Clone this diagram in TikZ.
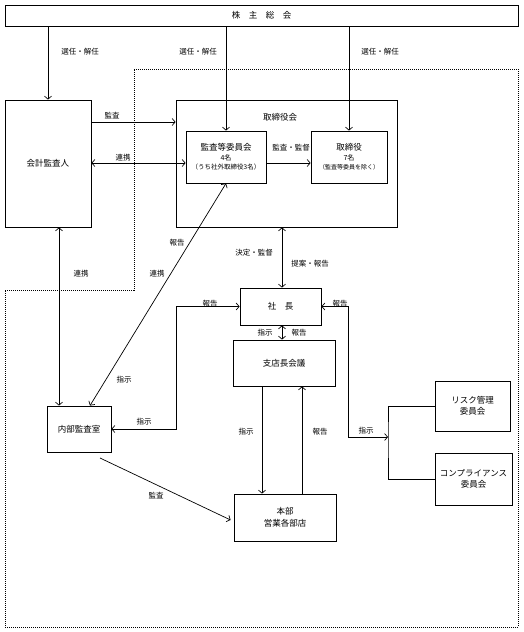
\documentclass[tikz,border=0pt]{standalone}
\usepackage{fontspec}
\setmainfont{Noto Sans CJK JP}
\usetikzlibrary{arrows.meta}
\usetikzlibrary{calc}

\begin{document}
\begin{tikzpicture}[
        x=1pt, y=-1pt,
        box/.style={draw, line width=0.8pt, align=center, inner sep=0pt, font=\fontsize{8.5}{11.5}\selectfont},
        lbl/.style={font=\fontsize{7.5}{9}\selectfont, inner sep=0pt},
        arr/.style={line width=0.7pt, -{Straight Barb[length=3pt,width=7pt]}},
        darr/.style={line width=0.7pt, {Straight Barb[length=3pt,width=7pt]}-{Straight Barb[length=3pt,width=7pt]}},
        plain/.style={line width=0.7pt},
        zone/.style={line width=0.7pt, dash pattern=on 1pt off 1pt}
    ]
    \useasboundingbox (0,0) rectangle (523,632);

    %=== Dotted area ===%
    \draw[zone] (134,69) -- (518,69) -- (518,627) -- (5,627) -- (5,290) -- (134,290) -- cycle;

    %=== Boxes ===%
    \node[box, minimum width=513pt, minimum height=21pt] (gm) at (261.5,15.5) {株　主　総　会};
    \node[box, minimum width=86pt, minimum height=127pt] (kaikei) at (48,163.5) {会計監査人};
    \node[box, minimum width=221pt, minimum height=127pt] (board) at (286.5,163.5) {};
    \node[box, draw=none] (boardtitle) at (280,117) {取締役会};
    \node[box, minimum width=80pt, minimum height=52pt] (audit) at (226,157)
        {監査等委員会\\[-2pt]{\fontsize{7}{9}\selectfont 4名}\\[-2pt]{\fontsize{6.5}{8}\selectfont （うち社外取締役3名）}};
    \node[box, minimum width=76pt, minimum height=52pt] (dir) at (349,157)
        {取締役\\[-2pt]{\fontsize{7}{9}\selectfont 7名}\\[-2pt]{\fontsize{6}{8}\selectfont （監査等委員を除く）}};
    \node[box, minimum width=81pt, minimum height=37pt] (pres) at (280.5,306.5) {社　長};
    \node[box, minimum width=102pt, minimum height=46pt] (branch) at (284,363) {支店長会議};
    \node[box, minimum width=64pt, minimum height=46pt] (internal) at (79,429) {内部監査室};
    \node[box, minimum width=102pt, minimum height=47pt] (hq) at (285,517.5) {本部\\営業各部店};
    \node[box, minimum width=75pt, minimum height=50pt] (risk) at (472.5,406) {リスク管理\\委員会};
    \node[box, minimum width=77pt, minimum height=52pt] (comp) at (473.5,479) {コンプライアンス\\委員会};

    %=== Connectors ===%
    \coordinate (fork) at (388,437);
    \coordinate (iaudit) at (100,458);

    \draw[arr] (gm.south -| kaikei.north) -- (kaikei.north);
    \draw[arr] (gm.south -| audit.north) -- (audit.north);
    \draw[arr] (gm.south -| dir.north) -- (dir.north);

    \draw[arr] (kaikei.east |- 0,122) -- (board.west |- 0,122);
    \draw[darr] (kaikei.east |- 0,163) -- (audit.west |- 0,163);
    \draw[arr] (audit.east |- 0,163) -- (dir.west |- 0,163);

    \draw[darr] (kaikei.south -| 59,0) -- (internal.north -| 59,0);
    \draw[darr] (audit.south) -- (internal.north -| 90,0);

    \draw[darr] (board.south -| 282,0) -- (pres.north -| 282,0);
    \draw[darr] (pres.south -| 282,0) -- (branch.north -| 282,0);

    \draw[darr] (pres.west) -| (176,0 |- internal.east) -- (internal.east);
    \draw[darr] (pres.east) -| (348,0 |- fork) -- (fork);
    \draw[plain] (risk.west) -| (fork) |- (comp.west);

    \draw[arr] (branch.south -| 262,0) -- (hq.north -| 262,0);
    \draw[arr] (hq.north -| 302,0) -- (branch.south -| 302,0);
    \draw[arr] (iaudit) -- ([xshift=-3pt]hq.west |- 0,520);

    %=== Labels ===%
    \node[lbl] (l-sen1) at (80,52) {選任・解任};
    \node[lbl] (l-sen2) at (198,52) {選任・解任};
    \node[lbl] (l-sen3) at (380,52) {選任・解任};
    \node[lbl] (l-kansa1) at (112,116) {監査};
    \node[lbl] (l-renkei1) at (123,158) {連携};
    \node[lbl] (l-kantoku) at (291,148) {監査・監督};
    \node[lbl] (l-renkei2) at (81,274) {連携};
    \node[lbl] (l-houkoku1) at (177,243) {報告};
    \node[lbl] (l-renkei3) at (157,274) {連携};
    \node[lbl] (l-kettei) at (254,253) {決定・監督};
    \node[lbl] (l-teian) at (310,264) {提案・報告};
    \node[lbl] (l-houkoku2) at (210,304) {報告};
    \node[lbl] (l-houkoku3) at (340,304) {報告};
    \node[lbl] (l-shiji1) at (265,333) {指示};
    \node[lbl] (l-houkoku4) at (299,333) {報告};
    \node[lbl] (l-shiji2) at (124,380) {指示};
    \node[lbl] (l-shiji3) at (144,422) {指示};
    \node[lbl] (l-shiji4) at (246,432) {指示};
    \node[lbl] (l-houkoku5) at (320,432) {報告};
    \node[lbl] (l-shiji5) at (366,431) {指示};
    \node[lbl] (l-kansa2) at (156,496) {監査};

\end{tikzpicture}
\end{document}
